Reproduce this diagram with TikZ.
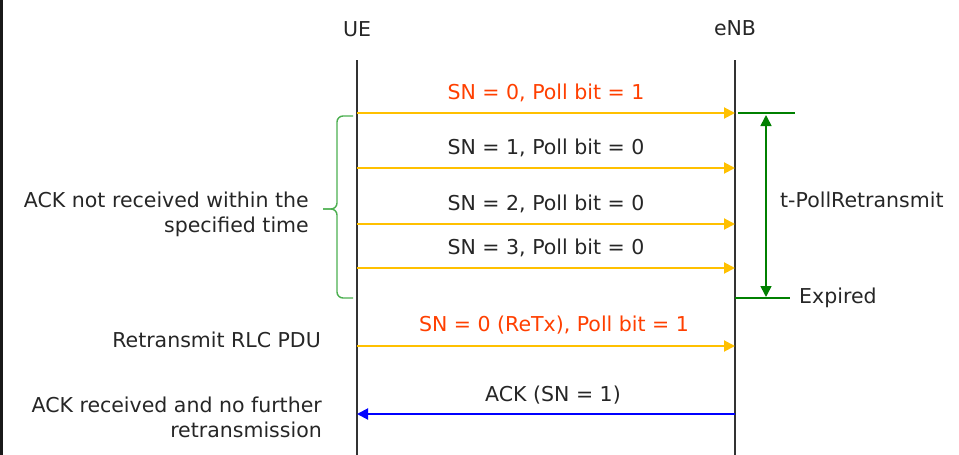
\documentclass[tikz,border=0pt]{standalone}
\usepackage{fontspec}
\setmainfont{DejaVu Sans}
\usetikzlibrary{arrows.meta}
\definecolor{pdu}{HTML}{FFC000}
\definecolor{pollred}{HTML}{FF3F00}
\definecolor{timer}{HTML}{008000}
\definecolor{bracegreen}{HTML}{4CAF50}
\definecolor{ackblue}{HTML}{0000FF}
\tikzset{
>={Triangle[length=11pt,width=11pt]},
lifeline/.style={draw=black!80, line width=1.5pt},
msg/.style={->, draw=pdu, line width=2pt},
ack/.style={->, draw=ackblue, line width=2pt},
timerline/.style={draw=timer, line width=1.6pt},
msglabel/.style={%
    font=\fontsize{20.5}{25}\selectfont,
    text=black!85,
    inner sep=0pt
},
sidenote/.style={%
    msglabel, align=right, anchor=east
},
}

\begin{document}
\begin{tikzpicture}[x=1pt, y=-1pt]
	\useasboundingbox (0,0) rectangle (959,455);
	\draw[black!90, line width=3pt] (1,0) -- (1,455);

	\node[msglabel] at (357,29) (ue) {UE};
	\node[msglabel] at (735,28) (enb) {eNB};

	\coordinate (uetop) at (357,60);
	\coordinate (uebot) at (357,455);
	\coordinate (enbtop) at (735,60);
	\coordinate (enbbot) at (735,455);

	\coordinate (ue0) at (357,113);
	\coordinate (enb0) at (735,113);
	\coordinate (ue1) at (357,168);
	\coordinate (enb1) at (735,168);
	\coordinate (ue2) at (357,224);
	\coordinate (enb2) at (735,224);
	\coordinate (ue3) at (357,268);
	\coordinate (enb3) at (735,268);
	\coordinate (ue4) at (357,346);
	\coordinate (enb4) at (735,346);
	\coordinate (ue5) at (357,414);
	\coordinate (enb5) at (735,414);

	\node[msglabel, text=pollred] at (546,93) (m0) {SN = 0, Poll bit = 1};
	\node[msglabel] at (546,148) (m1) {SN = 1, Poll bit = 0};
	\node[msglabel] at (546,204) (m2) {SN = 2, Poll bit = 0};
	\node[msglabel] at (546,248) (m3) {SN = 3, Poll bit = 0};
	\node[msglabel, text=pollred] at (554,325) (m4) {SN = 0 (ReTx), Poll bit = 1};
	\node[msglabel] at (553,395) (m5) {ACK (SN = 1)};

	\node[sidenote] at (309,214) (noack) {ACK not received within the\\specified time};
	\node[sidenote] at (321,340) (retx) {Retransmit RLC PDU};
	\node[sidenote] at (322,417) (gotack) {ACK received and no further\\retransmission};

	\coordinate (t0a) at (738,113);
	\coordinate (t0b) at (795,113);
	\coordinate (t1a) at (735,298);
	\coordinate (t1b) at (790,298);
	\coordinate (tup) at (766,115);
	\coordinate (tdown) at (766,297);
	\node[msglabel, anchor=west] at (780,200) (tpoll) {t-PollRetransmit};
	\node[msglabel, anchor=west] at (799,298) (expired) {Expired};

	\path[lifeline] (uetop) -- (uebot);
	\path[lifeline] (enbtop) -- (enbbot);

	\path (ue0) edge[msg] (enb0);
	\path (ue1) edge[msg] (enb1);
	\path (ue2) edge[msg] (enb2);
	\path (ue3) edge[msg] (enb3);
	\path (ue4) edge[msg] (enb4);
	\path (enb5) edge[ack] (ue5);

	\path (t0a) edge[timerline] (t0b);
	\path (t1a) edge[timerline] (t1b);
	\path (tup) edge[timerline, <->] (tdown);

	% brace
	\draw[bracegreen, line width=1.4pt, rounded corners=6pt]
		(353,116) -- (337,116) -- (337,209) -- (323,209);
	\draw[bracegreen, line width=1.4pt, rounded corners=6pt]
		(353,298) -- (337,298) -- (337,209) -- (323,209);
\end{tikzpicture}
\end{document}
